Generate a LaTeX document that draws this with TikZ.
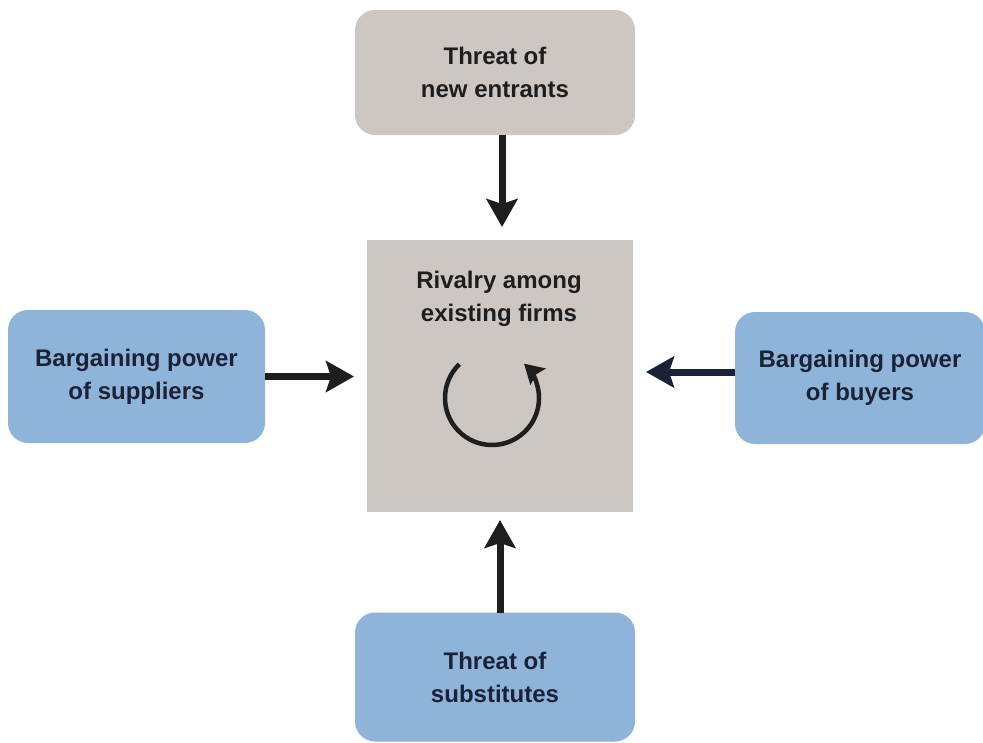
\documentclass[tikz,border=0pt]{standalone}
\usepackage{fontspec}
\setmainfont{Liberation Sans}
\usetikzlibrary{arrows.meta,positioning}

\definecolor{forcegray}{HTML}{CCC7C3}
\definecolor{forceblue}{HTML}{8EB4DA}
\definecolor{inkblue}{HTML}{1B2236}
\definecolor{inkdark}{HTML}{1E1E1E}

\begin{document}
\begin{tikzpicture}[x=1pt,y=-1pt]
\tikzstyle{every node}+=[inner sep=0pt, outer sep=0pt, align=center,
  font=\fontsize{24}{33}\selectfont\bfseries]
\tikzstyle{grayforce}=[fill=forcegray, text=inkdark, rounded corners=20pt]
\tikzstyle{blueforce}=[fill=forceblue, text=inkblue, rounded corners=20pt]
\tikzstyle{push}=[line width=7pt, inkdark, shorten >=13pt,
  -{Stealth[length=28pt, width=31pt, inset=5pt]}]
\tikzstyle{spin}=[line width=4.5pt, inkdark,
  -{Stealth[length=19pt, width=22pt, inset=3pt]}]
\useasboundingbox (0,0) rectangle (983,742);
% the five forces
\node [grayforce, minimum width=280pt, minimum height=125pt] (entrants) at (495,72.5) {Threat of\\new entrants};
\node [fill=forcegray, minimum width=266pt, minimum height=272pt] (rivalry) at (500,376) {};
\node [text=inkdark] (rivtext) at (499,299) {Rivalry among\\existing firms};
\node [blueforce, minimum width=257pt, minimum height=133pt] (suppliers) at (136.5,376.5) {Bargaining power\\of suppliers};
\node [blueforce, minimum width=250pt, minimum height=132pt] (buyers) at (860,378) {Bargaining power\\of buyers};
\node [blueforce, minimum width=280pt, minimum height=129pt] (substitutes) at (495,677) {Threat of\\substitutes};
% arrows into the middle
\draw [push] (entrants.south) ++(7,0) coordinate (entrantsout) -- (entrantsout |- rivalry.north);
\draw [push] (suppliers.east) -- (suppliers.east -| rivalry.west);
\draw [push, inkblue] (buyers.west) ++(0,-6) coordinate (buyersout) -- (buyersout -| rivalry.east);
\draw [push, shorten >=8pt] (substitutes.north) ++(5,0) coordinate (substout) -- (substout |- rivalry.south);
% rivalry loop
\coordinate (spinc) at (492,398);
\draw [spin] (spinc) ++(226:47) arc [start angle=226, end angle=-47, radius=47];
\end{tikzpicture}
\end{document}
